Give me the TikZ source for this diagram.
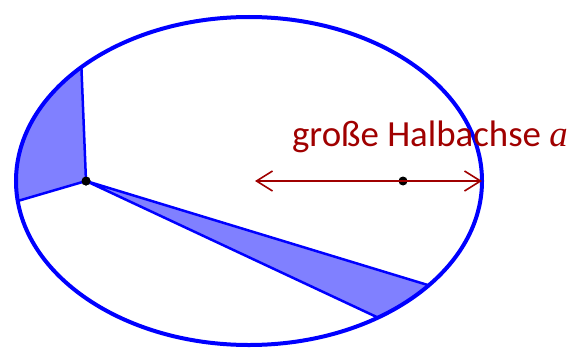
\documentclass[tikz,border=0pt]{standalone}
\usepackage{fontspec}
\setmainfont{Carlito}
\newfontfamily\halbachsefont{Liberation Serif}
\usepackage{xcolor}
\usepackage{tikz}
\usetikzlibrary{arrows.meta,positioning,calc}

\definecolor{achsrot}{RGB}{160,0,0}
\definecolor{sektorblau}{RGB}{128,128,255}

\tikzset{
  bahn/.style={draw=blue, line width=4bp},
  sektor/.style={fill=sektorblau, draw=blue, line width=2.5bp, line join=round},
  brennpunkt/.style={circle, fill=black, inner sep=0pt, minimum size=9bp},
  achse/.style={draw=achsrot, line width=1.6bp, {Straight Barb[length=16bp,width=20bp]}-{Straight Barb[length=16bp,width=20bp]}}
}

\begin{document}
\begin{tikzpicture}[x=1bp, y=1bp]
\useasboundingbox (0,0) rectangle (573,349);
\coordinate (m) at (249,168);
\node[brennpunkt] (f1) at (86,168) {};
% Sektoren
\path[sektor] (f1.center) -- ($(m)+(136:233 and 164)$) arc[start angle=136, end angle=187, x radius=233, y radius=164] -- cycle;
\path[sektor] (f1.center) -- ($(m)+(-39.5:233 and 164)$) arc[start angle=-39.5, end angle=-56.4, x radius=233, y radius=164] -- cycle;
% Bahn
\draw[bahn] (m) ellipse[x radius=233, y radius=164];
\node[brennpunkt] at (f1) {};
\node[brennpunkt] (f2) at (403,168) {};
% grosse Halbachse
\coordinate (al) at (255,168);
\coordinate (ar) at (482,168);
\draw[achse] (al) -- (ar);
\node[anchor=base, text=achsrot, font=\fontsize{37}{42}\selectfont, inner sep=0pt] (lab) at (430,203) {große Halbachse {\halbachsefont\itshape a}};
\end{tikzpicture}
\end{document}
